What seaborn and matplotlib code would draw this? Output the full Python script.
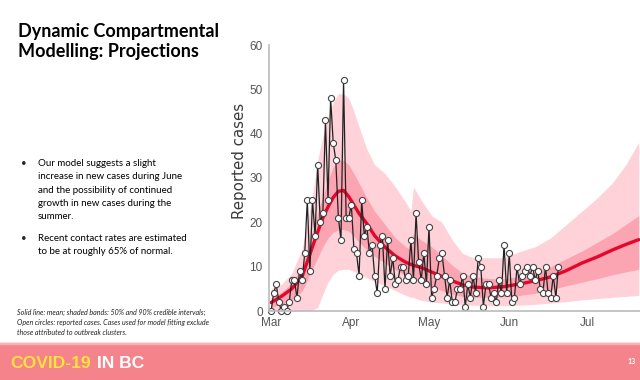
import matplotlib
matplotlib.use('Agg')
import matplotlib.dates as mdates
import matplotlib.pyplot as plt
import pandas as pd
import seaborn as sns
from matplotlib.patches import Rectangle

# Reported daily cases from Mar 1 (open circles)
cases = [0, 4, 6, 2, 0, 1, 0, 2, 7, 7, 3, 9, 7, 13, 25, 9, 25, 17, 33, 20,
         22, 43, 25, 48, 38, 34, 21, 16, 52, 21, 21, 24, 14, 13, 8, 25, 17, 19, 13, 15,
         8, 4, 15, 17, 5, 16, 8, 12, 6, 7, 10, 10, 7, 8, 16, 7, 22, 11, 7, 13,
         6, 19, 3, 5, 8, 12, 13, 8, 3, 7, 2, 2, 5, 5, 8, 1, 6, 3, 8, 4,
         12, 10, 1, 6, 6, 3, 4, 2, 7, 4, 15, 4, 13, 2, 3, 10, 6, 8, 9, 10,
         8, 10, 7, 9, 5, 4, 10, 4, 3, 8, 3, 10]

# Model output, days since Mar 1
model_days = [0, 4, 8, 12, 16, 18, 20, 22, 24, 26, 28, 30, 32, 34, 37, 40, 44, 48, 52, 54,
              55, 58, 62, 66, 70, 74, 78, 84, 90, 96, 102, 108, 114, 120, 126, 132, 137, 142]
mean_fit = [1.9, 3.3, 5.0, 7.8, 14.5, 17.8, 21.0, 23.5, 25.6, 27.0, 27.2, 25.8, 23.9, 22.0, 19.7, 17.0, 14.4, 12.4, 11.0, 10.5,
            10.3, 9.8, 8.8, 7.8, 6.8, 5.9, 5.4, 5.2, 5.5, 6.1, 6.8, 7.7, 9.1, 10.8, 12.2, 13.8, 15.0, 16.1]
ci90_lo = [0, 0, 0, 0, 0.2, 0.8, 3.8, 6.5, 8.3, 9.2, 9.4, 9.4, 8.9, 8.3, 7.5, 6.6, 5.7, 4.6, 3.5, 3.1,
           3.0, 2.4, 2.0, 1.8, 1.6, 1.4, 1.3, 1.2, 1.2, 1.3, 1.5, 1.8, 2.1, 2.5, 2.8, 3.1, 3.3, 3.5]
ci90_hi = [5, 6, 8.5, 14, 26, 34, 39.5, 44, 47, 49, 49, 48, 45, 41.5, 36.5, 33, 31, 28, 24.5, 22.5,
           28, 25, 21.5, 20, 16, 13, 12, 12, 12, 13.4, 14.5, 16.5, 19.5, 22.5, 25.5, 29, 33, 38]
ci50_lo = [0.8, 1.5, 2.5, 4.5, 9.5, 12, 14.5, 16.5, 17.8, 18.3, 18.4, 18, 16.8, 15.5, 13.8, 12.3, 10.8, 9.3, 8, 7.3,
           7.1, 6.4, 5.5, 4.6, 3.8, 3.3, 3.1, 3.1, 3.2, 3.5, 4, 4.8, 5.7, 6.5, 7.3, 8.2, 8.8, 9.4]
ci50_hi = [3, 4.2, 6.3, 10, 18, 22, 26, 29.5, 32.5, 34, 34, 33, 31, 28.8, 25.5, 22.5, 19.5, 16.5, 14.5, 13.8,
           17.5, 16, 14.5, 12.5, 10.3, 8.5, 7.8, 7.3, 7.3, 7.8, 8.7, 10, 11.8, 13.5, 15.5, 17.5, 19.5, 21.5]

title = 'Dynamic Compartmental\nModelling: Projections'
bullets = ['Our model suggests a slight\nincrease in new cases during June\nand the possibility of continued\ngrowth in new cases during the\nsummer.',
           'Recent contact rates are estimated\nto be at roughly 65% of normal.']
footnote = ('Solid line: mean; shaded bands: 50% and 90% credible intervals;\n'
            'Open circles: reported cases. Cases used for model fitting exclude\n'
            'those attributed to outbreak clusters.')

start = pd.Timestamp('2020-03-01')
case_dates = pd.date_range(start, periods=len(cases))
model_dates = start + pd.to_timedelta(model_days, unit='D')

sns.set_style('white')
plt.rcParams['font.family'] = ['Lato', 'DejaVu Sans']

fig = plt.figure(figsize=(6.4, 3.8), dpi=100)
ax = fig.add_axes([269 / 640, 1 - 311 / 380, 371 / 640, 266 / 380])

ax.fill_between(model_dates, ci90_lo, ci90_hi, color='#FFD2D9', lw=0)
ax.fill_between(model_dates, ci50_lo, ci50_hi, color='#FBA4B2', lw=0)
sns.lineplot(x=model_dates, y=mean_fit, ax=ax, color='#E5062C', lw=2.4)
sns.lineplot(x=case_dates, y=cases, ax=ax, color='#222222', lw=0.9, marker='o',
             markersize=4.4, markerfacecolor='white', markeredgecolor='#444444',
             markeredgewidth=0.8, clip_on=False)

ax.set_xlim(start - pd.Timedelta(days=0.8), start + pd.Timedelta(days=142.5))
ax.set_ylim(0, 60)
ax.set_yticks(range(0, 61, 10))
ax.xaxis.set_major_locator(mdates.MonthLocator())
ax.xaxis.set_major_formatter(mdates.DateFormatter('%b'))
for s in ['top', 'right']:
    ax.spines[s].set_visible(False)
for s in ['left', 'bottom']:
    ax.spines[s].set_color('#BBBBBB')
    ax.spines[s].set_linewidth(1.2)
ax.tick_params(axis='both', length=3, width=0.8, color='#BBBBBB', labelcolor='#555555',
               labelsize=8.5, pad=1.5)
for lab in ax.get_xticklabels() + ax.get_yticklabels():
    lab.set_family(['Liberation Sans', 'DejaVu Sans'])
ax.set_xlabel('')
ax.set_ylabel('Reported cases', fontsize=10.8, color='#3A3A3A', family=['DejaVu Sans'])
ax.yaxis.set_label_coords(-0.06, 0.565)

# slide text
fig.text(18 / 640, 1 - 23 / 380, title, ha='left', va='top', fontsize=13,
         fontweight='bold', color='black', linespacing=1.2)
bullet_y = [159, 234]
for y, b in zip(bullet_y, bullets):
    fig.text(21 / 640, 1 - y / 380, '\u2022', ha='left', va='top', fontsize=7)
    fig.text(38 / 640, 1 - y / 380, b, ha='left', va='top', fontsize=7,
             linespacing=1.62, color='black')
fig.text(17 / 640, 1 - 309 / 380, footnote, ha='left', va='top', fontsize=5.1,
         style='italic', color='#222222', linespacing=1.5)

# footer banner
fig.patches.append(Rectangle((0, 0), 1, 37 / 380, transform=fig.transFigure,
                             color='#F4838B', zorder=0))
fig.patches.append(Rectangle((0, 36 / 380), 1, 1.5 / 380, transform=fig.transFigure,
                             color='#F8B2B7', zorder=0))
banner_font = ['Liberation Sans', 'DejaVu Sans']
fig.text(10 / 640, 1 - 363 / 380, 'COVID-19', ha='left', va='center', fontsize=12.6,
         fontweight='bold', color='#FFE23A', family=banner_font)
fig.text(97 / 640, 1 - 363 / 380, 'IN BC', ha='left', va='center', fontsize=12.6,
         fontweight='bold', color='white', family=banner_font)
fig.text(632 / 640, 1 - 362 / 380, '13', ha='center', va='center', fontsize=5,
         fontweight='bold', color='white')

fig.savefig('out.png', dpi=100)
